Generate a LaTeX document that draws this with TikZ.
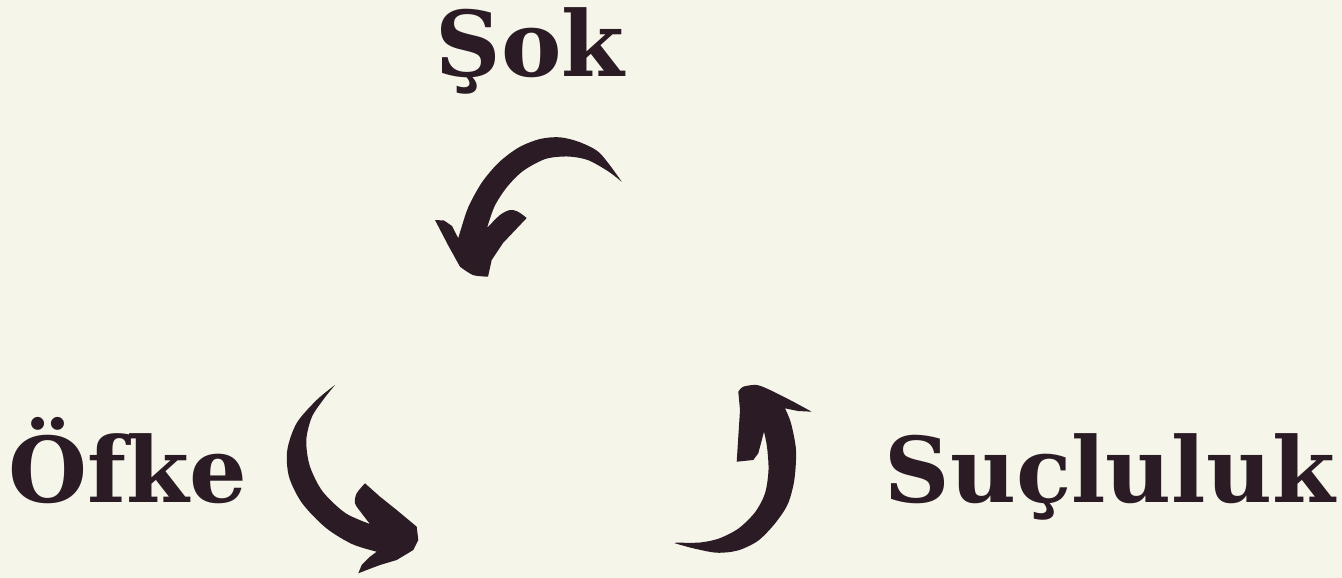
\documentclass[tikz,border=0pt]{standalone}
\usepackage{fontspec}
\setmainfont{DejaVu Serif}
\definecolor{zemin}{HTML}{F5F5E9}
\definecolor{murekkep}{HTML}{2B1B25}
\begin{document}
\begin{tikzpicture}[
  x=0.75pt, y=-0.75pt,
  etiket/.style={anchor=base, inner sep=0pt, text=murekkep, font=\bfseries\fontsize{68}{82}\selectfont},
  firca/.style={fill=murekkep}
]
% zemin
\fill[zemin] (0,0) rectangle (1342,578);
\useasboundingbox (0,0) rectangle (1342,578);
% etiketler
\node[etiket] (sok)   at (530,76)  {Şok};
\node[etiket] (ofke)  at (128,502) {Öfke};
\node[etiket] (sucl)  at (1110,502) {Suçluluk};
% ok 1: Şok -> Öfke
\fill[firca] plot[smooth] coordinates {(621.7,181.7) (600,153.3) (580,142.3) (560,137.3) (540,139) (519,147.3) (499,162.3) (482,182.3) (468.5,206.7) (460.7,230) (458.3,238.3)}
  -- (452,226) -- (444,220.5) -- (435,220)
  -- (448,245) -- (460,266.7)
  -- plot[smooth] coordinates {(460,266.7) (473,275) (488,276.7)}
  -- (491.7,260) -- (503,243) -- (526.7,218)
  -- plot[smooth] coordinates {(526.7,218) (518,211.7) (510,210) (500,215) (487,228)}
  -- plot[smooth] coordinates {(487,228) (494.7,206) (507,187) (523,171) (545.3,159) (567.7,156.5) (587.7,160) (607.7,171) (621.7,181.7)} -- cycle;
% ok 2: Öfke -> alt
\fill[firca] plot[smooth] coordinates {(335,385) (316.7,400) (296.7,423) (287.3,450) (289,476.7) (302,503) (325.7,527.7) (352,544) (376.7,551.7)}
  -- (370,556.7) -- (361.7,565) -- (358.3,573.3) -- (366.7,570) -- (380,565)
  -- (396.7,560) -- (413.3,550) -- (418.3,540) -- (416.7,526.7)
  -- (396.7,510) -- (380,496.7) -- (365,483.3)
  -- plot[smooth] coordinates {(365,483.3) (356.7,493.3) (355,503.3) (361.7,513.3) (370,524)}
  -- plot[smooth] coordinates {(370,524) (345.3,513) (322.5,491.3) (309.7,465.7) (306.3,440) (312,416.7) (324.3,398.3) (335,385)} -- cycle;
% ok 3: alt -> Suçluluk
\fill[firca] plot[smooth] coordinates {(675,543.3) (693.3,548.3) (716.7,552.7) (737.7,550.5) (757.7,541) (774.3,524.3) (787.7,504.3) (794.3,480) (796,450) (791,423.3) (785,408.3)}
  -- (798,411) -- (811.7,411.7) -- (793.3,401.7)
  -- plot[smooth] coordinates {(793.3,401.7) (770,390) (756.7,385) (743.3,386.7) (738.3,391.7)}
  -- (740,410) -- (738.3,436.7) -- (736.7,461.7) -- (753.3,460) -- (758.3,453.3) -- (764,431.7)
  -- plot[smooth] coordinates {(764,431.7) (767,446.7) (768.5,470) (765,493.3) (755,512.3) (738.5,528.5) (719,538.5) (700,542.5) (676.7,542.7) (675,543.3)} -- cycle;
\end{tikzpicture}
\end{document}
